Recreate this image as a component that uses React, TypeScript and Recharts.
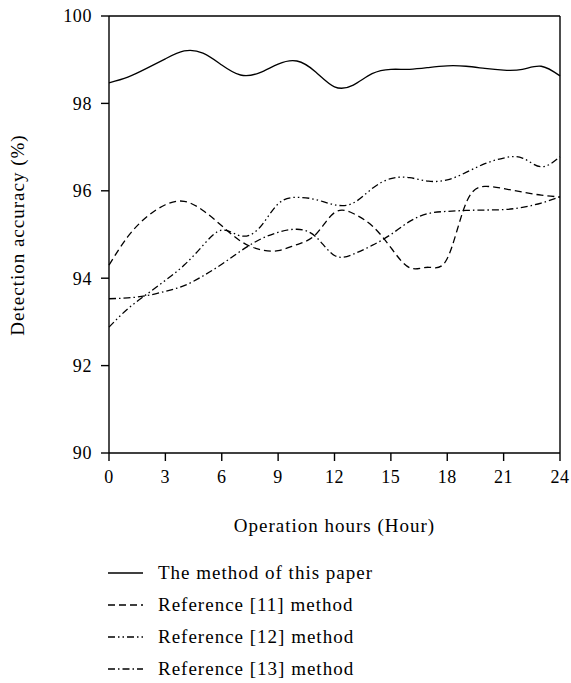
import React from "react";
import { LineChart, Line, XAxis, YAxis, ReferenceLine } from "recharts";

const hours = [0, 1, 2, 3, 4, 5, 6, 7, 8, 9, 10, 11, 12, 13, 14, 15, 16, 17, 18, 19, 20, 21, 22, 23, 24];

const thisPaper = [98.47, 98.6, 98.8, 99.02, 99.2, 99.15, 98.88, 98.65, 98.7, 98.9, 98.97, 98.72, 98.38, 98.42, 98.68, 98.78, 98.78, 98.82, 98.86, 98.85, 98.8, 98.76, 98.78, 98.85, 98.63];
const ref11 = [94.3, 94.95, 95.4, 95.68, 95.76, 95.55, 95.2, 94.85, 94.66, 94.63, 94.77, 95.0, 95.5, 95.48, 95.2, 94.7, 94.24, 94.25, 94.45, 95.72, 96.1, 96.05, 95.97, 95.9, 95.86];
const ref12 = [92.88, 93.3, 93.63, 93.95, 94.3, 94.75, 95.1, 94.97, 95.15, 95.7, 95.85, 95.8, 95.68, 95.72, 96.05, 96.28, 96.3, 96.22, 96.25, 96.42, 96.62, 96.75, 96.75, 96.55, 96.78];
const ref13 = [93.53, 93.55, 93.6, 93.7, 93.83, 94.05, 94.32, 94.62, 94.88, 95.05, 95.12, 94.95, 94.52, 94.55, 94.75, 95.0, 95.3, 95.48, 95.53, 95.55, 95.56, 95.57, 95.62, 95.72, 95.86];

const xTicks = [0, 3, 6, 9, 12, 15, 18, 21, 24];
const yTicks = [90, 92, 94, 96, 98, 100];

const seriesNames = ["The method of this paper", "Reference [11] method", "Reference [12] method", "Reference [13] method"];
const dashes = [undefined, "7 4", "7 3 1.5 3 1.5 3", "7 3 1.5 3"];

const data = hours.map((h, i) => ({
  h,
  s0: thisPaper[i],
  s1: ref11[i],
  s2: ref12[i],
  s3: ref13[i],
}));

const FONT = "'Liberation Serif', 'DejaVu Serif', serif";
const tickStyle = { fontSize: 18, fill: "#000", fontFamily: FONT, letterSpacing: 0.6 };
const textStyle = { fontSize: 19, letterSpacing: 1 };

export default function App() {
  return (
    <div style={{ position: "absolute", left: 0, top: 0, width: 571, height: 683, background: "#fff", fontFamily: FONT }}>
      <LineChart width={571} height={500} data={data} margin={{ top: 16, right: 11, left: 0, bottom: 0 }}>
        <XAxis
          dataKey="h"
          type="number"
          domain={[0, 24]}
          ticks={xTicks}
          height={47}
          tick={tickStyle}
          tickSize={8}
          tickMargin={9}
          stroke="#000"
          strokeWidth={1.4}
        />
        <YAxis
          type="number"
          domain={[90, 100]}
          ticks={yTicks}
          width={109}
          tick={tickStyle}
          tickSize={8}
          tickMargin={9}
          stroke="#000"
          strokeWidth={1.4}
        />
        <ReferenceLine y={100} stroke="#000" strokeWidth={1.4} />
        <ReferenceLine x={24} stroke="#000" strokeWidth={1.4} />
        {["s0", "s1", "s2", "s3"].map((k, i) => (
          <Line
            key={k}
            dataKey={k}
            type="natural"
            stroke="#000"
            strokeWidth={1.3}
            strokeDasharray={dashes[i]}
            dot={false}
            activeDot={false}
            isAnimationActive={false}
          />
        ))}
      </LineChart>

      {/* axis titles */}
      <div style={{ position: "absolute", left: 0, width: 669, top: 515, textAlign: "center", ...textStyle }}>
        Operation hours (Hour)
      </div>
      <div
        style={{
          position: "absolute",
          left: 18,
          top: 235,
          transform: "translate(-50%, -50%) rotate(-90deg)",
          whiteSpace: "nowrap",
          ...textStyle,
        }}
      >
        Detection accuracy (%)
      </div>

      {/* legend */}
      {seriesNames.map((name, i) => (
        <div key={name} style={{ position: "absolute", left: 108, top: 561 + i * 32, height: 24, display: "flex", alignItems: "center" }}>
          <svg width={36} height={10} style={{ marginRight: 14 }}>
            <line x1={0} y1={5} x2={35} y2={5} stroke="#000" strokeWidth={1.3} strokeDasharray={dashes[i]} />
          </svg>
          <span style={textStyle}>{name}</span>
        </div>
      ))}
    </div>
  );
}
